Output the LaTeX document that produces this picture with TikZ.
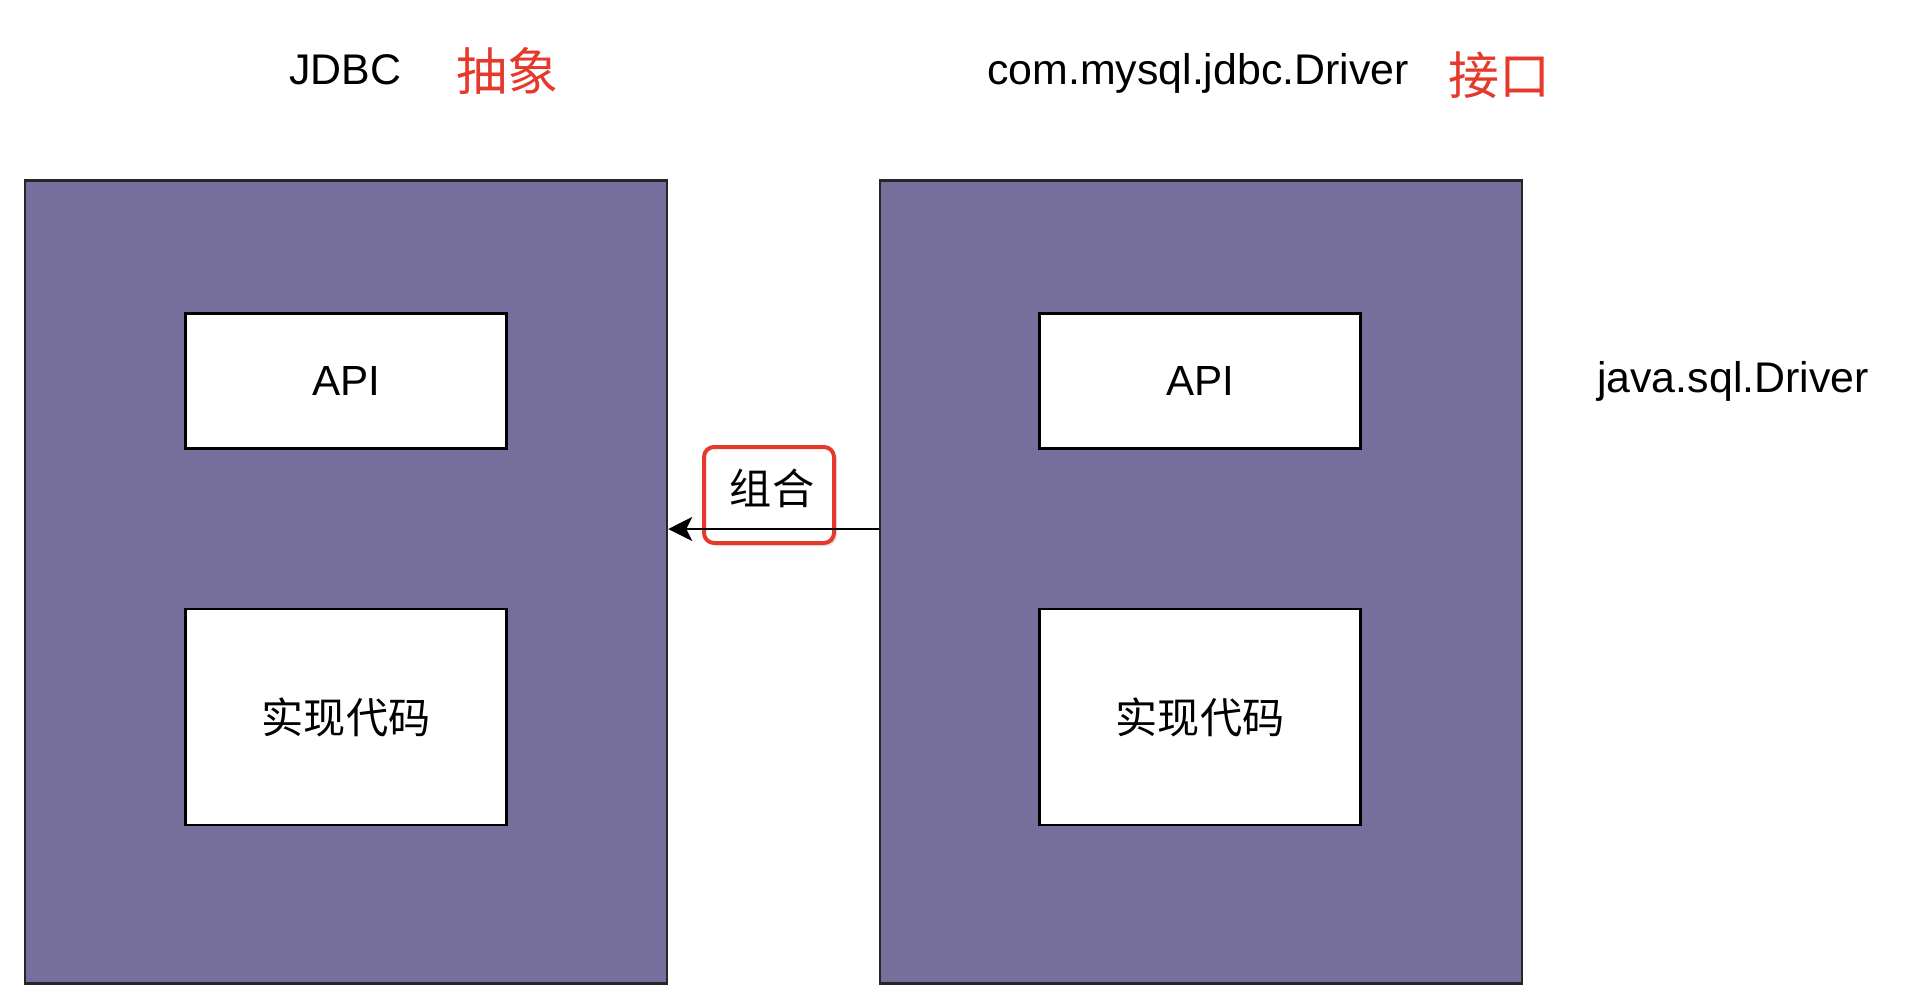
\documentclass[tikz,border=0pt]{standalone}
\usepackage{fontspec}
\setmainfont{Liberation Sans}
\newfontfamily\cjk{Noto Sans CJK SC}
\usetikzlibrary{arrows.meta,shadows}
\definecolor{boxpurple}{RGB}{118,111,156}
\definecolor{markred}{RGB}{229,57,43}
\begin{document}
\begin{tikzpicture}[
    outerbox/.style={draw=black!85, line width=0.025cm, fill=boxpurple, minimum width=6.42cm, minimum height=8.03cm, inner sep=0pt},
    innerbox/.style={draw=black, line width=0.025cm, fill=white, minimum width=3.21cm, inner sep=0pt, font=\fontsize{12}{14}\selectfont},
    title/.style={anchor=base, font=\fontsize{12.2}{14}\selectfont},
    redtitle/.style={text=markred, font=\fontsize{14.5}{16}\selectfont\cjk},
    hilite/.style={draw=markred, fill=white, line width=0.04cm, rounded corners=0.1cm, minimum width=1.3cm, minimum height=0.96cm,
        drop shadow={opacity=0.2, shadow xshift=0.03cm, shadow yshift=-0.03cm}}
  ]
  \useasboundingbox (0,0) rectangle (19.10,-10.04);

  % Titles above the two blocks
  \node [title] (tjdbc) at (3.45,-0.84) {JDBC};%
  \node [redtitle] (tabs) at (5.07,-0.71) {抽象};%
  \node [title] (tmysql) at (11.98,-0.84) {com.mysql.jdbc.Driver};%
  \node [redtitle] (tiface) at (14.99,-0.75) {接口};%

  % Left block: JDBC
  \node [outerbox] (ljdbc) at (3.46,-5.82) {};%
  \node [innerbox, minimum height=1.35cm] (lapi) at (3.46,-3.81) {API};%
  \node [innerbox, minimum height=2.16cm] (limpl) at (3.46,-7.17) {\cjk 实现代码};%

  % Right block: mysql driver
  \node [outerbox] (rdrv) at (12.01,-5.82) {};%
  \node [innerbox, minimum height=1.35cm] (rapi) at (12.00,-3.81) {API};%
  \node [innerbox, minimum height=2.16cm] (rimpl) at (12.00,-7.17) {\cjk 实现代码};%

  % Interface name beside the right block
  \node [title] (tjava) at (17.33,-3.92) {java.sql.Driver};%

  % Marked label and composition arrow
  \node [hilite] (hl) at (7.69,-4.95) {};%
  \draw [line width=0.025cm, -{Stealth[length=0.24cm, width=0.24cm, inset=0.06cm]}] ([yshift=0.53cm]rdrv.west) -- ([yshift=0.53cm]ljdbc.east);%
  \node [font=\fontsize{12}{14}\selectfont\cjk] (comb) at (7.72,-4.88) {组合};%
\end{tikzpicture}
\end{document}
